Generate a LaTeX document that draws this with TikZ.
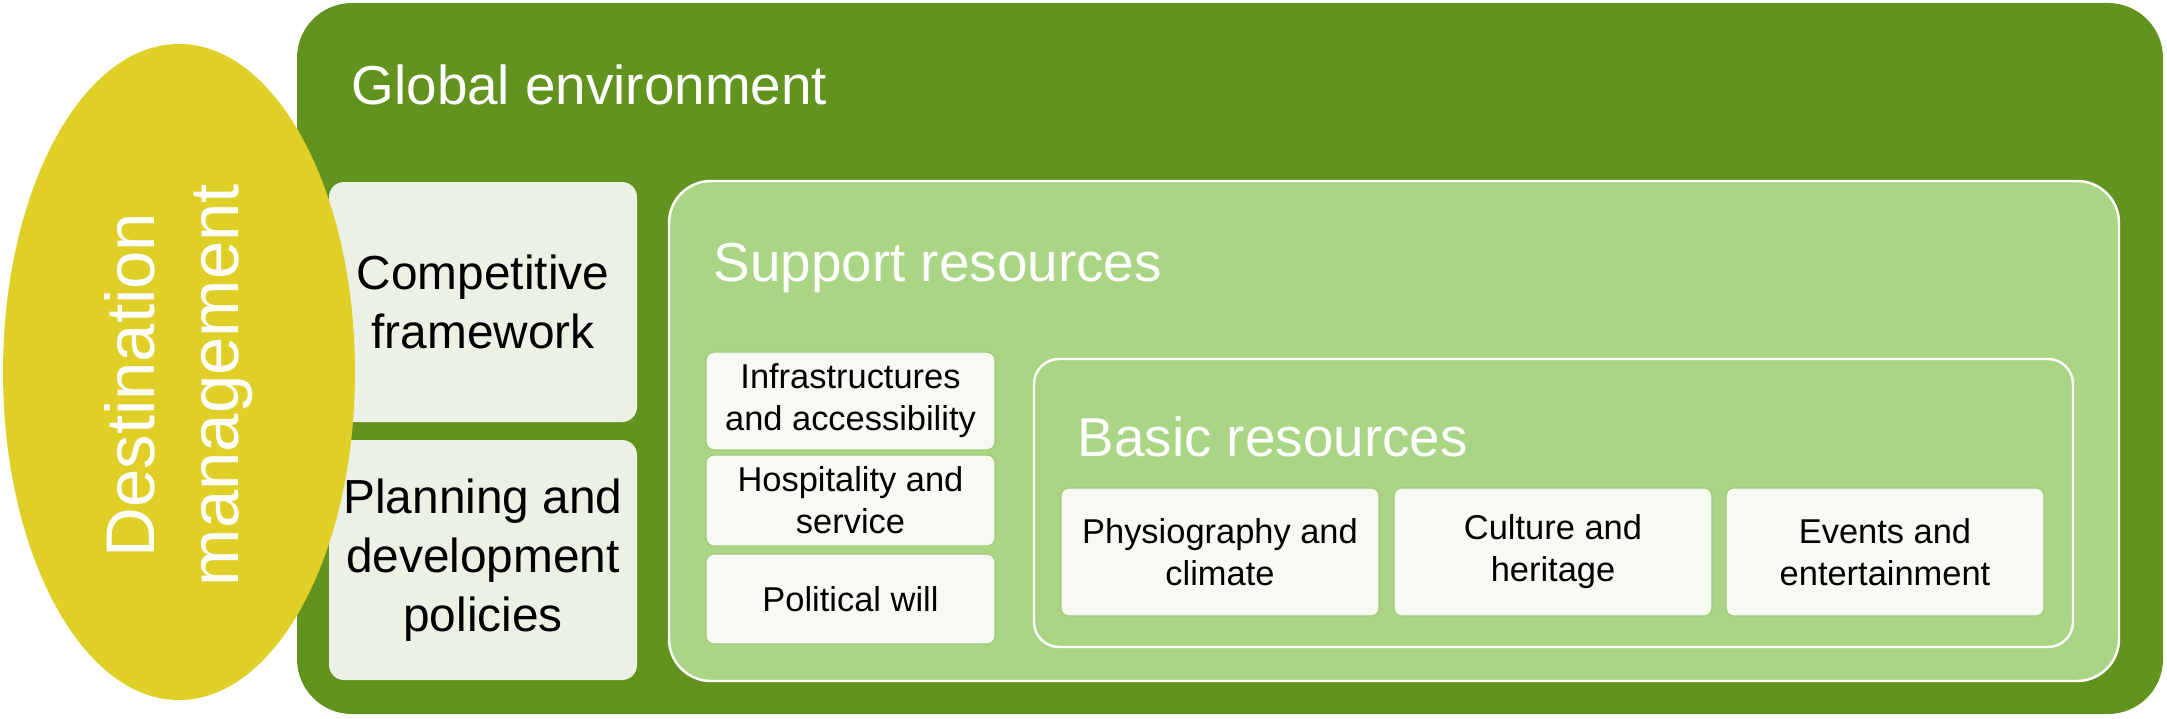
\documentclass[tikz,border=0pt]{standalone}
\usepackage{fontspec}
\setmainfont{Liberation Sans}
\usetikzlibrary{positioning,shapes.geometric}
\definecolor{envgreen}{HTML}{62931F}
\definecolor{supgreen}{HTML}{A9D584}
\definecolor{palegreen}{HTML}{EBF1E4}
\definecolor{boxwhite}{HTML}{F7F9F2}
\definecolor{mgmtyellow}{HTML}{DFCF27}
\definecolor{edgegreen}{HTML}{9ACA74}

\begin{document}
\begin{tikzpicture}[
    headfont/.style={font=\fontsize{15.6}{18}\selectfont},
    envbox/.style={fill=envgreen, rounded corners=0.55cm, minimum width=18.66cm, minimum height=7.11cm, inner sep=0pt},
    levelbox/.style={fill=supgreen, draw=white, line width=0.7pt, inner sep=0pt},
    sidebox/.style={fill=palegreen, rounded corners=0.15cm, minimum width=3.08cm, minimum height=2.40cm, align=center, font=\fontsize{13.6}{16.7}\selectfont},
    itembox/.style={fill=boxwhite, draw=edgegreen, line width=0.3pt, rounded corners=0.08cm, align=center, font=\fontsize{9.8}{12}\selectfont},
    suppitem/.style={itembox, minimum width=2.89cm, minimum height=0.88cm},
    basicitem/.style={itembox, minimum width=3.18cm, minimum height=1.28cm},
    headlabel/.style={headfont, text=white, anchor=base west, inner sep=0pt},
]
    \useasboundingbox (0,0) rectangle (21.67,7.18);

    % =====================================================================
    % GLOBAL ENVIRONMENT
    % =====================================================================
    \node[envbox] (env) at (12.30, 3.595) {};
    \node[headlabel] (env_lbl) at (3.51, 6.14) {Global environment};

    % side factors
    \node[sidebox] (compet) at (4.83, 4.16) {Competitive\\framework};
    \node[sidebox] (plan) at (4.83, 1.58) {Planning and\\development\\policies};

    % =====================================================================
    % SUPPORT RESOURCES
    % =====================================================================
    \node[levelbox, rounded corners=0.42cm, minimum width=14.50cm, minimum height=5.00cm] (support) at (13.94, 2.87) {};
    \node[headlabel] (support_lbl) at (7.13, 4.37) {Support resources};

    \node[suppitem] (infra) at (8.505, 3.17) {Infrastructures\\and accessibility};
    \node[suppitem] (hosp) at (8.505, 2.175) {Hospitality and\\service};
    \node[suppitem, minimum height=0.90cm] (polit) at (8.505, 1.19) {Political will};

    % =====================================================================
    % BASIC RESOURCES
    % =====================================================================
    \node[levelbox, rounded corners=0.25cm, minimum width=10.39cm, minimum height=2.88cm] (basic) at (15.535, 2.15) {};
    \node[headlabel] (basic_lbl) at (10.77, 2.62) {Basic resources};

    \node[basicitem] (physio) at (12.20, 1.66) {Physiography and\\climate};
    \node[basicitem] (culture) at (15.53, 1.66) {Culture and\\heritage};
    \node[basicitem] (events) at (18.85, 1.66) {Events and\\entertainment};

    % =====================================================================
    % DESTINATION MANAGEMENT
    % =====================================================================
    \node[ellipse, fill=mgmtyellow, minimum width=3.52cm, minimum height=6.56cm, inner sep=0pt] (mgmt) at (1.79, 3.46) {};
    \node[rotate=90, text=white, align=center, font=\fontsize{19.6}{24}\selectfont] (mgmt_lbl) at (1.79, 3.33) {Destination\\management};

\end{tikzpicture}
\end{document}
